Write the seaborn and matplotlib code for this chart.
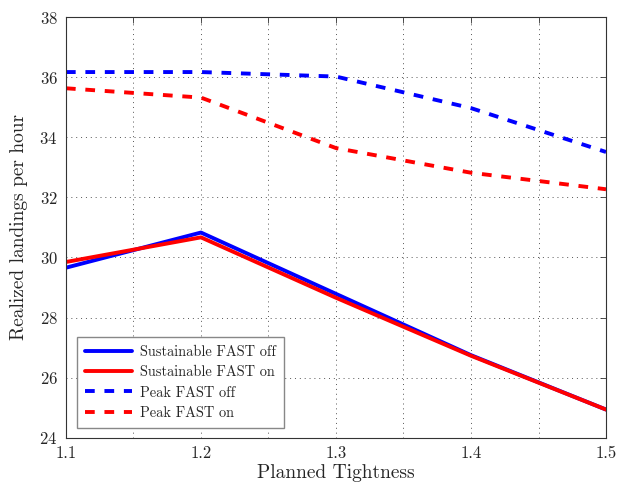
import matplotlib
matplotlib.use("Agg")
import matplotlib.pyplot as plt
import seaborn as sns
import pandas as pd
from matplotlib.ticker import MultipleLocator

tightness = [1.1, 1.2, 1.3, 1.4, 1.5]
sustainable_off = [29.66, 30.83, 28.79, 26.75, 24.94]
sustainable_on = [29.85, 30.67, 28.66, 26.73, 24.94]
peak_off = [36.17, 36.17, 36.02, 34.97, 33.51]
peak_on = [35.63, 35.32, 33.64, 32.82, 32.27]

series_names = ["Sustainable FAST off", "Sustainable FAST on", "Peak FAST off", "Peak FAST on"]
series_values = [sustainable_off, sustainable_on, peak_off, peak_on]

rows = []
for name, vals in zip(series_names, series_values):
    for x, y in zip(tightness, vals):
        rows.append({"Planned Tightness": x, "value": y, "series": name})
df = pd.DataFrame(rows)

sns.set_theme(style="white")
plt.rcParams["font.family"] = ["cmr10", "DejaVu Serif"]
plt.rcParams["axes.formatter.use_mathtext"] = True
plt.rcParams["mathtext.fontset"] = "cm"

fig = plt.figure(figsize=(6.28, 4.87), dpi=100)
ax = fig.add_axes([0.105, 0.101, 0.860, 0.864])

palette = {"Sustainable FAST off": "#0000ff", "Sustainable FAST on": "#ff0000",
           "Peak FAST off": "#0000ff", "Peak FAST on": "#ff0000"}
dashes = {"Sustainable FAST off": "", "Sustainable FAST on": "",
          "Peak FAST off": (2.5, 2.5), "Peak FAST on": (2.5, 2.5)}

sns.lineplot(data=df, x="Planned Tightness", y="value", hue="series", style="series",
             palette=palette, dashes=dashes, hue_order=series_names, style_order=series_names,
             linewidth=2.8, ax=ax)

ax.set_xlim(1.1, 1.5)
ax.set_ylim(24, 38)
ax.xaxis.set_major_locator(MultipleLocator(0.1))
ax.xaxis.set_minor_locator(MultipleLocator(0.05))
ax.yaxis.set_major_locator(MultipleLocator(2))
ax.set_xticklabels([f"{t:.1f}" for t in ax.get_xticks()])
ax.grid(True, which="both", axis="x", linestyle=(0, (1, 4)), color="#555555", linewidth=0.7)
ax.grid(True, which="major", axis="y", linestyle=(0, (1, 4)), color="#555555", linewidth=0.7)
ax.tick_params(which="both", direction="in", top=True, right=True, length=4, width=0.6,
               labelsize=12, color="#333333", pad=6)
ax.tick_params(which="minor", length=4)
for sp in ax.spines.values():
    sp.set_color("#333333")
    sp.set_linewidth(0.8)

ax.set_xlabel("Planned Tightness", fontsize=14, labelpad=2)
ax.set_ylabel("Realized landings per hour", fontsize=14, labelpad=8)

leg = ax.legend(loc="lower left", fontsize=10.4, handlelength=3.3, handletextpad=0.55,
                frameon=True, fancybox=False, framealpha=1, edgecolor="#888888",
                borderpad=0.55, labelspacing=0.45, borderaxespad=0,
                bbox_to_anchor=(0.02, 0.024))
leg.get_frame().set_linewidth(1.0)

fig.savefig("out.png", dpi=100)
